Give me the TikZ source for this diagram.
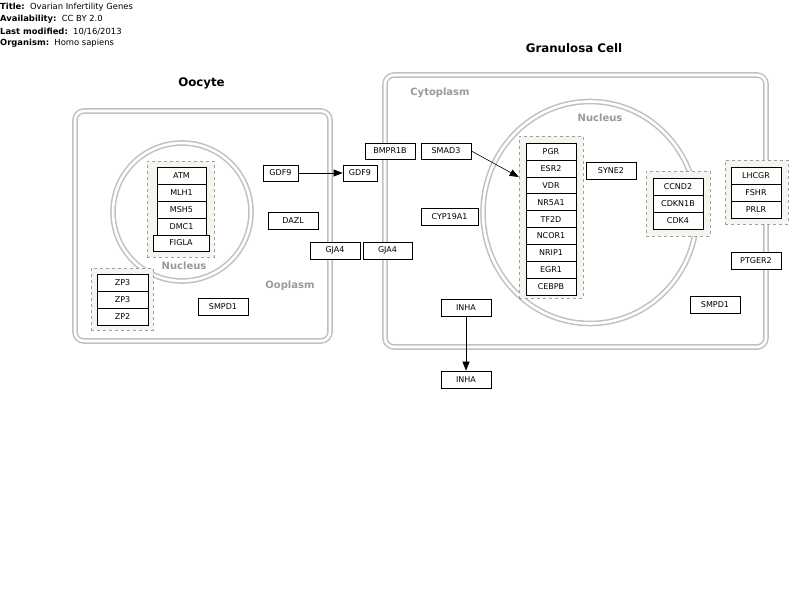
\documentclass[tikz,border=0pt]{standalone}
\usepackage{fontspec}
\setmainfont{DejaVu Sans}
\usetikzlibrary{arrows.meta}
\definecolor{memb}{HTML}{C0C0C0}
\definecolor{grpfill}{HTML}{F5F5EF}
\definecolor{grpline}{HTML}{A0A0A0}
\definecolor{lbl}{HTML}{999999}
\tikzset{
  gene/.style={draw=black, line width=0.7pt, fill=white, inner sep=0pt, minimum height=17pt, minimum width=50pt, font=\fontsize{8}{9}\selectfont},
  grp/.style={draw=grpline, dashed, fill=grpfill, line width=0.6pt, inner sep=0pt},
  membrane/.style={draw=memb, line width=1.5pt, double=white, double distance=2.6pt},
  cellttl/.style={font=\fontsize{11.8}{14}\selectfont\bfseries},
  complbl/.style={text=lbl, font=\fontsize{10}{12}\selectfont\bfseries},
  hdr/.style={anchor=west, inner sep=0pt, font=\fontsize{8.4}{10}\selectfont},
  conn/.style={draw=black, line width=0.6pt, -{Triangle[length=9pt,width=7pt]}}
}
\begin{document}
\begin{tikzpicture}[x=1pt,y=-1pt]
\useasboundingbox[fill=white] (0,0) rectangle (800,605);
% header
\node[hdr] (h1) at (0,7.5) {\textbf{Title:}\ \ Ovarian Infertility Genes};
\node[hdr] (h2) at (0,19.5) {\textbf{Availability:}\ \ CC BY 2.0};
\node[hdr] (h3) at (0,31.5) {\textbf{Last modified:}\ \ 10/16/2013};
\node[hdr] (h4) at (0,43) {\textbf{Organism:}\ \ Homo sapiens};
% cells
\draw[membrane, rounded corners=9pt] (75,111) rectangle (330,341);
\draw[membrane, rounded corners=9pt] (385,75) rectangle (766,347);
\draw[membrane] (182,212) circle [radius=69pt];
\draw[membrane] (590,212.5) ellipse [x radius=107pt, y radius=111pt];
% labels
\node[cellttl] (tO) at (201.5,83) {Oocyte};
\node[cellttl] (tG) at (574,48) {Granulosa Cell};
\node[complbl] (lN1) at (184,266) {Nucleus};
\node[complbl] (lOo) at (290,286) {Ooplasm};
\node[complbl] (lCy) at (440,93) {Cytoplasm};
\node[complbl] (lN2) at (600,118) {Nucleus};
% groups
\node[grp, minimum width=67pt, minimum height=96pt] (g1) at (180.5,209) {};
\node[grp, minimum width=62pt, minimum height=62pt] (g2) at (122,299) {};
\node[grp, minimum width=64pt, minimum height=162pt] (g3) at (551,217) {};
\node[grp, minimum width=64pt, minimum height=65pt] (g4) at (678,203.5) {};
\node[grp, minimum width=63pt, minimum height=64pt] (g5) at (756.5,192) {};
% oocyte nucleus stack
\node[gene, minimum width=49pt] (atm) at (181.5,175.5) {ATM};
\node[gene, minimum width=49pt] (mlh1) at (181.5,192.5) {MLH1};
\node[gene, minimum width=49pt] (msh5) at (181.5,209.5) {MSH5};
\node[gene, minimum width=49pt] (dmc1) at (181.5,226.5) {DMC1};
\node[gene, minimum width=56pt, minimum height=16pt] (figla) at (181,243) {FIGLA};
% ZP stack
\node[gene, minimum width=51pt] (zp3a) at (122.5,282.5) {ZP3};
\node[gene, minimum width=51pt] (zp3b) at (122.5,299.5) {ZP3};
\node[gene, minimum width=51pt] (zp2) at (122.5,316.5) {ZP2};
% oocyte others
\node[gene, minimum width=35pt, minimum height=16pt] (gdf9a) at (280.5,173) {GDF9};
\node[gene, minimum width=34pt, minimum height=16pt] (gdf9b) at (360,173) {GDF9};
\node[gene] (dazl) at (293,220.5) {DAZL};
\node[gene] (gja4a) at (335,250.5) {GJA4};
\node[gene, minimum width=49pt] (gja4b) at (387.5,250.5) {GJA4};
\node[gene] (smpd1a) at (223,306.5) {SMPD1};
% granulosa cytoplasm
\node[gene, minimum height=16pt] (bmpr1b) at (390,151) {BMPR1B};
\node[gene, minimum height=16pt] (smad3) at (446,151) {SMAD3};
\node[gene, minimum width=57pt] (cyp) at (449.5,216.5) {CYP19A1};
\node[gene] (inha1) at (466,307.5) {INHA};
\node[gene] (inha2) at (466,379.5) {INHA};
\node[gene] (syne2) at (611,170.5) {SYNE2};
\node[gene] (ptger2) at (756,260.5) {PTGER2};
\node[gene] (smpd1b) at (715,304.5) {SMPD1};
% granulosa nucleus stack
\node[gene, minimum height=16.9pt] (pgr) at (551,151.5) {PGR};
\node[gene, minimum height=16.9pt] (esr2) at (551,168.4) {ESR2};
\node[gene, minimum height=16.9pt] (vdr) at (551,185.3) {VDR};
\node[gene, minimum height=16.9pt] (nr5a1) at (551,202.2) {NR5A1};
\node[gene, minimum height=16.9pt] (tf2d) at (551,219.1) {TF2D};
\node[gene, minimum height=16.9pt] (ncor1) at (551,236) {NCOR1};
\node[gene, minimum height=16.9pt] (nrip1) at (551,252.9) {NRIP1};
\node[gene, minimum height=16.9pt] (egr1) at (551,269.8) {EGR1};
\node[gene, minimum height=16.9pt] (cebpb) at (551,286.7) {CEBPB};
% CCND2 stack
\node[gene] (ccnd2) at (678,186.5) {CCND2};
\node[gene] (cdkn1b) at (678,203.5) {CDKN1B};
\node[gene] (cdk4) at (678,220.5) {CDK4};
% receptor stack
\node[gene] (lhcgr) at (756,175.5) {LHCGR};
\node[gene] (fshr) at (756,192.5) {FSHR};
\node[gene] (prlr) at (756,209.5) {PRLR};
% connectors
\draw[conn] (gdf9a) -- (gdf9b);
\coordinate (smadtip) at (g3.west |- 0,177);
\draw[conn] (smad3.east) -- (smadtip);
\draw[conn] (inha1) -- (inha2);
\end{tikzpicture}
\end{document}
